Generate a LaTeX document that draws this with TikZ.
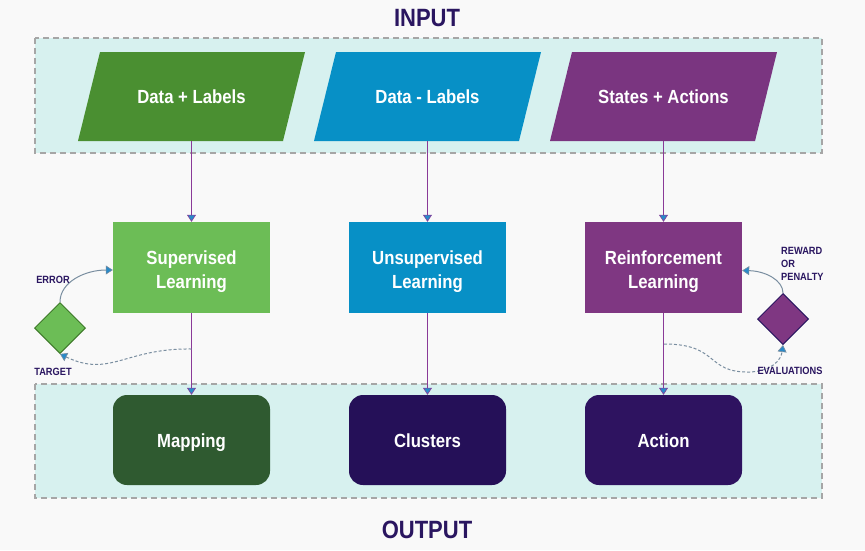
\documentclass[tikz,border=0pt]{standalone}
\usepackage{fontspec}
\setmainfont[FakeStretch=0.88]{Liberation Sans}
\usetikzlibrary{arrows.meta,shapes.geometric}
\definecolor{bgc}{HTML}{F9F9F9}
\definecolor{zonefill}{HTML}{D7F1EF}
\definecolor{zoneline}{HTML}{A6A6A6}
\definecolor{dgreen}{HTML}{4A8F31}
\definecolor{lgreen}{HTML}{6CBD56}
\definecolor{mapg}{HTML}{2F5A30}
\definecolor{dblue}{HTML}{0790C6}
\definecolor{ppar}{HTML}{7A3580}
\definecolor{preinf}{HTML}{7F3782}
\definecolor{clus}{HTML}{251058}
\definecolor{actc}{HTML}{2E1360}
\definecolor{navy}{HTML}{2A1660}
\definecolor{lnpurple}{HTML}{8A3A98}
\definecolor{tipblue}{HTML}{2A8AC8}
\definecolor{curvec}{HTML}{7A8EA0}
\definecolor{dgborder}{HTML}{3E7A2A}
\tikzset{
  zone/.style={fill=zonefill, draw=zoneline, line width=2pt, dash pattern=on 6pt off 4pt},
  ptext/.style={minimum width=180pt, minimum height=89pt, inner sep=0pt, text height=16pt, text depth=2pt, text=white, font=\fontsize{19}{24}\selectfont\bfseries},
  midbox/.style={minimum width=157pt, minimum height=91pt, inner sep=0pt, align=center, text height=45pt, text depth=4pt, text=white, font=\fontsize{19}{24}\selectfont\bfseries},
  outbox/.style={minimum width=157pt, minimum height=90pt, inner sep=0pt, text height=16pt, text depth=2pt, rounded corners=14pt, text=white, font=\fontsize{19}{24}\selectfont\bfseries},
  downarr/.style={draw=lnpurple, line width=1.1pt, -{Triangle[length=7pt,width=9pt,fill=tipblue,line width=0.6pt]}},
  curvarr/.style={draw=curvec, line width=1pt, -{Triangle[length=7pt,width=9pt,fill=tipblue,line width=0.6pt]}},
  dcurvarr/.style={curvarr, dash pattern=on 3pt off 2pt},
  dmd/.style={diamond, aspect=1, minimum width=51pt, minimum height=51pt, inner sep=0pt, line width=1pt},
  smalllab/.style={text=navy, inner sep=0pt, font=\fontsize{10.5}{13}\selectfont\bfseries},
  biglab/.style={text=navy, inner sep=0pt, font=\fontsize{25}{30}\selectfont\bfseries}
}
\newcommand{\parashape}[2]{\fill[#2] ({#1-113.5},141) -- ({#1-91.5},52) -- ({#1+113.5},52) -- ({#1+91.5},141) -- cycle;}
\begin{document}
\begin{tikzpicture}[x=1pt,y=-1pt]
\fill[bgc] (0,0) rectangle (865,550);
\useasboundingbox (0,0) rectangle (865,550);
% zones
\draw[zone] (35,38) rectangle (822,153);
\draw[zone] (35,384) rectangle (822,498);
% parallelograms
\parashape{191.5}{dgreen}
\parashape{427.5}{dblue}
\parashape{663.5}{ppar}
\node[ptext] (dl) at (191.5,96.5) {Data + Labels};
\node[ptext] (du) at (427.5,96.5) {Data - Labels};
\node[ptext] (sa) at (663.5,96.5) {States + Actions};
% middle
\node[midbox, fill=lgreen] (sup) at (191.5,267.5) {Supervised\\Learning};
\node[midbox, fill=dblue] (uns) at (427.5,267.5) {Unsupervised\\Learning};
\node[midbox, fill=preinf] (rei) at (663.5,267.5) {Reinforcement\\Learning};
% outputs
\node[outbox, fill=mapg] (map) at (191.5,440) {Mapping};
\node[outbox, fill=clus] (clu) at (427.5,440) {Clusters};
\node[outbox, fill=actc] (act) at (663.5,440) {Action};
% diamonds
\node[dmd, fill=lgreen, draw=dgborder] (ld) at (60,328) {};
\node[dmd, fill=preinf, draw=navy] (rd) at (783,319) {};
% down arrows
\draw[downarr] (dl.south) -- (sup.north);
\draw[downarr] (du.south) -- (uns.north);
\draw[downarr] (sa.south) -- (rei.north);
\draw[downarr] (sup.south) -- (map.north);
\draw[downarr] (uns.south) -- (clu.north);
\draw[downarr] (rei.south) -- (act.north);
% feedback loops
\coordinate (tgt) at (191.5,349);
\coordinate (evc) at (664,344);
\draw[curvarr] (ld.north) .. controls (60,282) and (85,270) .. ([yshift=-2.5pt]sup.west);
\draw[dcurvarr] (tgt) .. controls (125,348) and (110,378) .. (ld.south);
\draw[curvarr] (rd.north) .. controls (783,280) and (765,271) .. ([yshift=-3pt]rei.east);
\draw[dcurvarr] (evc) .. controls (720,344) and (705,373) .. (750,372) .. controls (772,371) and (781,360) .. (rd.south);
% labels
\node[smalllab] (err) at (53,280) {ERROR};
\node[smalllab] (tgl) at (53,372) {TARGET};
\node[smalllab, align=left, anchor=west] (rew) at (781,264) {REWARD\\OR\\PENALTY};
\node[smalllab] (evl) at (790,371) {EVALUATIONS};
\node[biglab] (inl) at (427,18) {INPUT};
\node[biglab] (outl) at (427,530) {OUTPUT};
\end{tikzpicture}
\end{document}
